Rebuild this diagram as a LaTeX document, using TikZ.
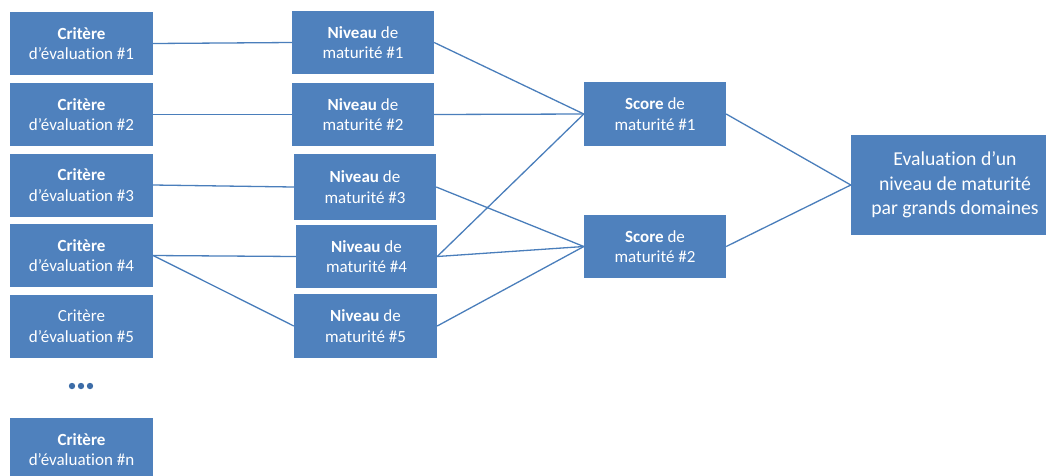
\documentclass[tikz,border=0pt]{standalone}
\usepackage{fontspec}
\setmainfont{Carlito}[Ligatures=NoCommon]
\definecolor{boxblue}{HTML}{4F81BD}
\definecolor{lineblue}{HTML}{4A7EBB}
\definecolor{dotblue}{HTML}{3D6DA8}
\begin{document}
\begin{tikzpicture}[x=1pt,y=-1pt,
  box/.style={fill=boxblue, text=white, draw=none, inner sep=0pt, align=center,
    font=\fontsize{17}{20.5}\selectfont},
  link/.style={draw=lineblue, line width=1.3pt}]
\useasboundingbox (0,0) rectangle (1046,475);
% Critere column
\node[box, minimum width=143pt, minimum height=63pt] (c1) at (81.5,43.5) {\textbf{Critère}\\d’évaluation \#1};
\node[box, minimum width=143pt, minimum height=63pt] (c2) at (81.5,114.5) {\textbf{Critère}\\d’évaluation \#2};
\node[box, minimum width=143pt, minimum height=63pt] (c3) at (81.5,185) {\textbf{Critère}\\d’évaluation \#3};
\node[box, minimum width=143pt, minimum height=63pt] (c4) at (81.5,255.5) {\textbf{Critère}\\d’évaluation \#4};
\node[box, minimum width=143pt, minimum height=63pt] (c5) at (81.5,326) {Critère\\d’évaluation \#5};
\node[box, minimum width=143pt, minimum height=63pt] (cn) at (81.5,449.5) {\textbf{Critère}\\d’évaluation \#n};
% dots
\fill[dotblue] (72,386) circle (3.2pt) (81,386) circle (3.2pt) (90,386) circle (3.2pt);
% Niveau column
\node[box, minimum width=142pt, minimum height=63pt] (n1) at (363,42.5) {\textbf{Niveau} de\\maturité \#1};
\node[box, minimum width=142pt, minimum height=63pt] (n2) at (363,114.5) {\textbf{Niveau} de\\maturité \#2};
\node[box, minimum width=142pt, minimum height=66pt] (n3) at (365,187) {\textbf{Niveau} de\\maturité \#3};
\node[box, minimum width=141pt, minimum height=63pt] (n4) at (366.5,256.5) {\textbf{Niveau} de\\maturité \#4};
\node[box, minimum width=143pt, minimum height=64pt] (n5) at (365.5,326) {\textbf{Niveau} de\\maturité \#5};
% Scores
\node[box, minimum width=142pt, minimum height=64pt] (s1) at (655,114) {\textbf{Score} de\\maturité \#1};
\node[box, minimum width=142pt, minimum height=63pt] (s2) at (655,246.5) {\textbf{Score} de\\maturité \#2};
% Evaluation
\node[box, minimum width=208pt, minimum height=100pt, font=\fontsize{19.7}{24.5}\selectfont] (ev) at (955,185) {Evaluation d’un\\niveau de maturité\\par grands domaines};
% connectors
\draw[link] (c1.east) -- (n1.west);
\draw[link] (c2.east) -- (n2.west);
\draw[link] (c3.east) -- (n3.west);
\draw[link] (c4.east) -- (n4.west);
\draw[link] (c4.east) -- (n5.west);
\draw[link] (n1.east) -- (s1.west);
\draw[link] (n2.east) -- (s1.west);
\draw[link] (n4.east) -- (s1.west);
\draw[link] (n3.east) -- (s2.west);
\draw[link] (n4.east) -- (s2.west);
\draw[link] (n5.east) -- (s2.west);
\draw[link] (s1.east) -- (ev.west);
\draw[link] (s2.east) -- (ev.west);
\end{tikzpicture}
\end{document}
